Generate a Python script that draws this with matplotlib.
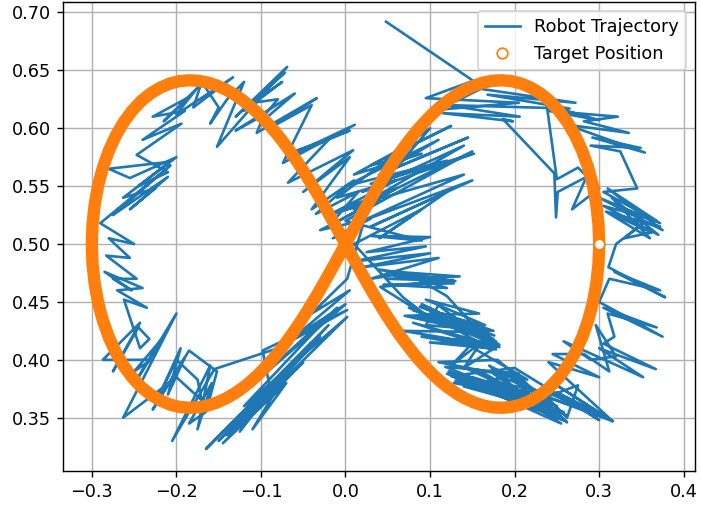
import numpy as np
import matplotlib
matplotlib.use("Agg")
import matplotlib.pyplot as plt

# target figure-eight, first quarter (every 2.5 degrees),
# the other three quarters are its mirror images about x = 0 and y = 0.5
quarter_x = [0.3000, 0.2992, 0.2966, 0.2925, 0.2868, 0.2798, 0.2716, 0.2624, 0.2524, 0.2418,
             0.2307, 0.2193, 0.2078, 0.1963, 0.1849, 0.1737, 0.1626, 0.1519, 0.1414, 0.1313,
             0.1215, 0.1121, 0.1030, 0.0942, 0.0857, 0.0775, 0.0696, 0.0619, 0.0545, 0.0472,
             0.0402, 0.0332, 0.0264, 0.0198, 0.0131, 0.0065, 0.0000]
quarter_dy = [0.0000, 0.0174, 0.0345, 0.0509, 0.0664, 0.0807, 0.0937, 0.1052, 0.1151, 0.1234,
              0.1300, 0.1350, 0.1386, 0.1407, 0.1414, 0.1410, 0.1394, 0.1368, 0.1333, 0.1291,
              0.1241, 0.1186, 0.1125, 0.1059, 0.0990, 0.0917, 0.0841, 0.0763, 0.0683, 0.0601,
              0.0517, 0.0433, 0.0347, 0.0261, 0.0174, 0.0087, 0.0000]
center_y = 0.5

# robot trajectory, piece by piece (x, y)
path_start = [(0.048, 0.692), (0.151, 0.641), (0.095, 0.626), (0.205, 0.622), (0.110, 0.616),
              (0.160, 0.634), (0.272, 0.622), (0.168, 0.629), (0.265, 0.617), (0.120, 0.620),
              (0.206, 0.610), (0.115, 0.613), (0.198, 0.606), (0.186, 0.608), (0.247, 0.561),
              (0.249, 0.523), (0.251, 0.545), (0.285, 0.558), (0.268, 0.530), (0.300, 0.548),
              (0.275, 0.566), (0.250, 0.556)]
path_right_top = [(0.238, 0.620), (0.300, 0.607), (0.240, 0.615), (0.322, 0.610), (0.282, 0.606),
                  (0.335, 0.596), (0.262, 0.603), (0.354, 0.579), (0.292, 0.592), (0.349, 0.583),
                  (0.290, 0.585), (0.325, 0.580), (0.345, 0.548), (0.305, 0.545), (0.372, 0.518),
                  (0.300, 0.540), (0.375, 0.512), (0.310, 0.548), (0.368, 0.520), (0.305, 0.533),
                  (0.370, 0.508), (0.315, 0.540), (0.360, 0.505), (0.308, 0.528), (0.372, 0.515),
                  (0.318, 0.525), (0.362, 0.510), (0.330, 0.505), (0.352, 0.518)]
path_right_side = [(0.320, 0.500), (0.311, 0.480), (0.378, 0.454), (0.318, 0.476), (0.372, 0.460),
                   (0.312, 0.470), (0.300, 0.450), (0.375, 0.420), (0.305, 0.445), (0.368, 0.428),
                   (0.310, 0.440), (0.318, 0.420), (0.305, 0.414), (0.367, 0.392), (0.300, 0.410),
                   (0.352, 0.385), (0.258, 0.416), (0.290, 0.400), (0.320, 0.403), (0.296, 0.430),
                   (0.312, 0.390), (0.282, 0.405), (0.245, 0.405), (0.300, 0.385), (0.240, 0.398),
                   (0.316, 0.347), (0.250, 0.378), (0.305, 0.352), (0.238, 0.368), (0.275, 0.378),
                   (0.262, 0.350), (0.238, 0.368), (0.316, 0.347), (0.245, 0.370), (0.310, 0.350),
                   (0.250, 0.372), (0.300, 0.348)]
path_right_bottom = [(0.200, 0.393), (0.125, 0.386), (0.255, 0.350), (0.130, 0.382), (0.258, 0.355),
                     (0.135, 0.388), (0.250, 0.360), (0.145, 0.392), (0.262, 0.352), (0.150, 0.385),
                     (0.242, 0.365), (0.128, 0.380), (0.230, 0.372), (0.170, 0.395), (0.225, 0.360),
                     (0.140, 0.377), (0.205, 0.388), (0.118, 0.394), (0.240, 0.358), (0.122, 0.390),
                     (0.248, 0.354), (0.120, 0.388), (0.261, 0.347), (0.130, 0.386), (0.255, 0.345),
                     (0.160, 0.390), (0.258, 0.349), (0.140, 0.384), (0.220, 0.375), (0.175, 0.388),
                     (0.245, 0.352), (0.190, 0.389), (0.250, 0.348), (0.205, 0.386), (0.262, 0.346),
                     (0.180, 0.400), (0.110, 0.398), (0.215, 0.383), (0.147, 0.412),
                     (0.125, 0.395), (0.160, 0.415), (0.140, 0.393), (0.180, 0.412), (0.075, 0.445),
                     (0.178, 0.416), (0.085, 0.438), (0.170, 0.420), (0.090, 0.448), (0.175, 0.418),
                     (0.100, 0.440), (0.165, 0.430), (0.095, 0.452), (0.158, 0.440), (0.070, 0.438),
                     (0.150, 0.425), (0.080, 0.443), (0.176, 0.421), (0.088, 0.446), (0.168, 0.424),
                     (0.068, 0.425), (0.182, 0.411), (0.080, 0.432), (0.178, 0.409), (0.090, 0.420),
                     (0.180, 0.414), (0.105, 0.437), (0.170, 0.410), (0.100, 0.415), (0.182, 0.413),
                     (0.115, 0.440), (0.175, 0.425), (0.095, 0.430),
                     (0.110, 0.447), (0.172, 0.413), (0.120, 0.455), (0.085, 0.470), (0.040, 0.478),
                     (0.130, 0.468), (0.050, 0.470), (0.135, 0.472), (0.060, 0.476), (0.120, 0.462),
                     (0.045, 0.465), (0.128, 0.466), (0.055, 0.473),
                     (0.030, 0.470), (0.110, 0.488), (0.020, 0.480), (0.100, 0.492), (0.010, 0.485),
                     (0.095, 0.498), (0.025, 0.493), (0.100, 0.506), (0.030, 0.507), (0.090, 0.503)]
path_center = [(0.000, 0.520), (0.150, 0.580), (0.010, 0.530), (0.140, 0.585), (0.020, 0.545),
               (0.152, 0.578), (0.030, 0.552), (0.120, 0.572), (0.000, 0.550), (0.110, 0.590),
               (0.040, 0.560), (0.145, 0.592), (0.060, 0.566), (0.100, 0.600), (0.050, 0.575),
               (0.125, 0.602), (0.030, 0.568), (0.090, 0.578), (0.010, 0.560), (0.070, 0.584),
               (-0.010, 0.540), (0.060, 0.555), (-0.020, 0.525), (0.040, 0.538), (-0.030, 0.512),
               (0.030, 0.522), (-0.015, 0.505), (0.020, 0.515)]
path_left_low = [(0.002, 0.470), (-0.040, 0.440), (0.005, 0.460), (-0.060, 0.420), (0.000, 0.448),
                 (-0.100, 0.385), (-0.010, 0.445), (-0.120, 0.360), (0.002, 0.437), (-0.140, 0.335),
                 (-0.020, 0.430), (-0.165, 0.323), (-0.040, 0.415), (-0.150, 0.330), (-0.030, 0.420),
                 (-0.130, 0.340), (-0.050, 0.398), (-0.145, 0.328), (-0.070, 0.380), (-0.110, 0.340),
                 (-0.060, 0.400), (-0.125, 0.338), (-0.090, 0.378), (-0.098, 0.408), (0.002, 0.443),
                 (-0.080, 0.410), (-0.155, 0.392), (-0.205, 0.330), (-0.160, 0.395), (-0.175, 0.340),
                 (-0.158, 0.380), (-0.185, 0.345), (-0.165, 0.355), (-0.152, 0.390), (-0.185, 0.408),
                 (-0.228, 0.357), (-0.190, 0.402), (-0.210, 0.370), (-0.195, 0.410), (-0.225, 0.362),
                 (-0.200, 0.400), (-0.175, 0.383), (-0.170, 0.365), (-0.200, 0.385)]
path_left_side = [(-0.263, 0.350), (-0.200, 0.440), (-0.245, 0.385), (-0.215, 0.420), (-0.250, 0.390),
                  (-0.230, 0.400), (-0.287, 0.400), (-0.243, 0.432), (-0.275, 0.390), (-0.245, 0.428),
                  (-0.232, 0.418), (-0.243, 0.410), (-0.262, 0.452), (-0.235, 0.445), (-0.270, 0.460),
                  (-0.240, 0.462), (-0.285, 0.476), (-0.253, 0.460), (-0.275, 0.470), (-0.247, 0.470),
                  (-0.283, 0.490), (-0.255, 0.488), (-0.280, 0.505), (-0.250, 0.500), (-0.290, 0.518),
                  (-0.207, 0.568), (-0.275, 0.525), (-0.210, 0.558), (-0.255, 0.530), (-0.225, 0.548),
                  (-0.263, 0.540), (-0.200, 0.575), (-0.255, 0.557), (-0.280, 0.565), (-0.208, 0.571),
                  (-0.245, 0.550), (-0.210, 0.562)]
path_left_top = [(-0.247, 0.577), (-0.194, 0.604), (-0.240, 0.590), (-0.190, 0.615), (-0.228, 0.610),
                 (-0.185, 0.627), (-0.215, 0.606), (-0.175, 0.635), (-0.200, 0.612), (-0.133, 0.644),
                 (-0.180, 0.618), (-0.170, 0.640), (-0.150, 0.618), (-0.160, 0.604), (-0.140, 0.625),
                 (-0.120, 0.640), (-0.152, 0.584), (-0.069, 0.653), (-0.130, 0.610), (-0.072, 0.648),
                 (-0.120, 0.615), (-0.075, 0.640), (-0.110, 0.622), (-0.080, 0.625), (-0.095, 0.612),
                 (-0.130, 0.598), (-0.060, 0.630), (-0.100, 0.605), (-0.105, 0.596), (-0.034, 0.626),
                 (-0.090, 0.600), (-0.040, 0.620), (-0.074, 0.570), (0.011, 0.603), (-0.070, 0.575),
                 (0.005, 0.598), (-0.060, 0.580), (-0.020, 0.590), (-0.068, 0.553), (0.009, 0.581),
                 (-0.050, 0.545), (0.005, 0.575), (-0.040, 0.530), (0.010, 0.555), (-0.035, 0.526),
                 (0.015, 0.545), (-0.020, 0.515)]
path_end = [(0.060, 0.548), (-0.005, 0.530), (0.140, 0.560), (0.020, 0.520), (0.150, 0.555),
            (0.030, 0.515), (0.120, 0.545), (0.040, 0.505), (0.090, 0.530), (0.010, 0.500),
            (0.068, 0.454), (0.100, 0.436), (0.041, 0.463), (0.127, 0.469)]

pieces = [path_start, path_right_top, path_right_side, path_right_bottom, path_center,
          path_left_low, path_left_side, path_left_top, path_end]
robot = np.array([p for piece in pieces for p in piece])

# build the full closed figure-eight from the quarter
qx = np.array(quarter_x)
qdy = np.array(quarter_dy)
target_x = np.concatenate([qx, -qx[::-1][1:], -qx[1:], qx[::-1][1:]])
target_y = np.concatenate([center_y + qdy, center_y - qdy[::-1][1:],
                           center_y + qdy[1:], center_y - qdy[::-1][1:]])

DPI = 127
fig = plt.figure(figsize=(701 / DPI, 507 / DPI), dpi=DPI)
ax = fig.add_axes([0.090, 0.071, 0.901, 0.925])

ax.plot(robot[:, 0], robot[:, 1], color="#1f77b4", lw=1.5, label="Robot Trajectory")
# dense target markers render as a solid band
ax.plot(target_x, target_y, color="#ff7f0e", lw=7, solid_capstyle="round", solid_joinstyle="round")
ax.plot(target_x[-1:], target_y[-1:], "o", color="#ff7f0e", mfc="white", ms=6,
        linestyle="none", label="Target Position")

ax.set_xlim(-0.334, 0.413)
ax.set_ylim(0.304, 0.709)
ax.set_xticks(np.arange(-0.3, 0.41, 0.1))
ax.set_yticks(np.arange(0.35, 0.701, 0.05))
ax.grid(True)
ax.legend(loc="upper right")

fig.savefig("out.png", dpi=DPI)
